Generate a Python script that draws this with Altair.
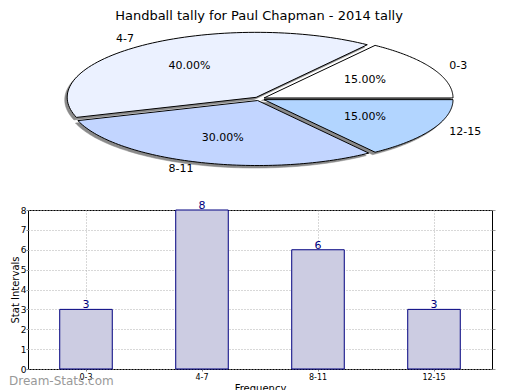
import altair as alt
import pandas as pd
import numpy as np

# ---------------- data ----------------
categories = ["0-3", "4-7", "8-11", "12-15"]
counts = [3, 8, 6, 3]
pie_colors = ["#ffffff", "#ebf1ff", "#c2d5ff", "#b2d5ff"]
y_ticks = [0, 1, 2, 3, 4, 5, 6, 7, 8]
chart_title = "Handball tally for Paul Chapman - 2014 tally"
x_title = "Frequency"
y_title = "Stat Intervals"
watermark = "Dream-Stats.com"

FONT = "DejaVu Sans"

# ---------------- layout parameters (page pixels) ----------------
X0 = 29          # page x of the plot-area origin (shared column)
TOP = 9          # page y of pie panel top
PIE_W, PIE_H = 476, 190
CX, CY = 260.3, 98.8   # ellipse centre on the page
RX, RY = 189.0, 65.0   # ellipse radii in pixels
EXPLODE = 0.028
SHADOW = 2.5
LABEL_R = 1.1
PCT_R = 0.6
BAR_W = 493 - X0

# pie units -> scale domains
x_dom = [(X0 - CX) / RX, (X0 + PIE_W - CX) / RX]
y_dom = [(CY - (TOP + PIE_H)) / RY, (CY - TOP) / RY]

total = float(sum(counts))
fracs = [c / total for c in counts]
ends = np.cumsum(fracs) * 360.0
starts = ends - np.array(fracs) * 360.0

rows = []
lab_rows = []
for k, cat in enumerate(categories):
    s, e = starts[k], ends[k]
    mid = np.radians((s + e) / 2.0)
    ox, oy = EXPLODE * np.cos(mid), EXPLODE * np.sin(mid)
    angs = np.radians(np.linspace(s, e, 80))
    pts = [(0.0, 0.0)] + [(np.cos(a), np.sin(a)) for a in angs] + [(0.0, 0.0)]
    for i, (px, py) in enumerate(pts):
        rows.append({"cat": cat, "i": i, "x": px + ox, "y": py + oy,
                     "sx": px + ox - SHADOW / RX, "sy": py + oy - SHADOW / RY})
    lab_rows.append({"cat": cat,
                     "pct": f"{fracs[k] * 100:.2f}%",
                     "px": PCT_R * np.cos(mid) + ox, "py": PCT_R * np.sin(mid) + oy,
                     "lx": LABEL_R * np.cos(mid) + ox, "ly": LABEL_R * np.sin(mid) + oy,
                     "side": "left" if np.cos(mid) >= 0 else "right"})

pie_df = pd.DataFrame(rows)
lab_df = pd.DataFrame(lab_rows)

xs = alt.Scale(domain=x_dom, nice=False, zero=False)
ys = alt.Scale(domain=y_dom, nice=False, zero=False)

base = alt.Chart(pie_df)
shadow = base.mark_line(fill="#8a8a8a", stroke="#8a8a8a", strokeWidth=0.5).encode(
    x=alt.X("sx:Q", scale=xs, axis=None),
    y=alt.Y("sy:Q", scale=ys, axis=None),
    detail="cat:N",
    order=alt.Order("i:Q"),
)
wedges = base.mark_line(stroke="black", strokeWidth=1).encode(
    x=alt.X("x:Q", scale=xs, axis=None),
    y=alt.Y("y:Q", scale=ys, axis=None),
    fill=alt.Fill("cat:N", scale=alt.Scale(domain=categories, range=pie_colors), legend=None),
    detail="cat:N",
    order=alt.Order("i:Q"),
)
pct_text = alt.Chart(lab_df).mark_text(font=FONT, fontSize=11, color="black").encode(
    x=alt.X("px:Q", scale=xs, axis=None),
    y=alt.Y("py:Q", scale=ys, axis=None),
    text="pct:N",
)
lab_left = alt.Chart(lab_df).transform_filter("datum.side == 'left'").mark_text(
    font=FONT, fontSize=11, color="black", align="left").encode(
    x=alt.X("lx:Q", scale=xs, axis=None),
    y=alt.Y("ly:Q", scale=ys, axis=None),
    text="cat:N",
)
lab_right = alt.Chart(lab_df).transform_filter("datum.side == 'right'").mark_text(
    font=FONT, fontSize=11, color="black", align="right").encode(
    x=alt.X("lx:Q", scale=xs, axis=None),
    y=alt.Y("ly:Q", scale=ys, axis=None),
    text="cat:N",
)
title_df = pd.DataFrame({"t": [chart_title]})
title_mark = alt.Chart(title_df).mark_text(
    font=FONT, fontSize=13, color="black", baseline="top", align="center").encode(
    x=alt.value(260 - X0), y=alt.value(1), text="t:N")

pie = alt.layer(shadow, wedges, pct_text, lab_left, lab_right, title_mark).properties(
    width=PIE_W, height=PIE_H, view=alt.ViewBackground(stroke="transparent"))

# ---------------- bar chart ----------------
bar_df = pd.DataFrame({"cat": categories, "n": counts})
xb = alt.X("cat:N", sort=categories, scale=alt.Scale(paddingInner=0.547, paddingOuter=0.2735),
           axis=alt.Axis(title=x_title, labelAngle=0, labelFont=FONT, labelFontSize=8,
                         titleFont=FONT, titleFontSize=10, titleFontWeight="normal",
                         titlePadding=2, tickSize=2, labelPadding=2, tickColor="#888",
                         domain=False, grid=True, gridDash=[1, 2], gridColor="#b0b0b0",
                         bandPosition=0.5))
ybar = alt.Y("n:Q", scale=alt.Scale(domain=[0, 8], nice=False),
             axis=alt.Axis(title=y_title, values=y_ticks, labelFont=FONT, labelFontSize=9,
                           titleFont=FONT, titleFontSize=10, titleFontWeight="normal",
                           titlePadding=0, tickSize=2, labelPadding=0, tickColor="#888",
                           domain=False, grid=True, gridDash=[1, 2], gridColor="#b0b0b0"))
bars = alt.Chart(bar_df).mark_bar(fill="#ccccE2", stroke="#000080", strokeWidth=1).encode(
    x=xb, y=ybar)
yright = alt.Y("n:Q", scale=alt.Scale(domain=[0, 8], nice=False),
               axis=alt.Axis(orient="right", title=None, labels=False, values=y_ticks,
                             tickSize=3, tickColor="#999", domain=False, grid=False))
vals = alt.Chart(bar_df).mark_text(font=FONT, fontSize=11, color="#000080",
                                   baseline="bottom", dy=1).encode(
    x=alt.X("cat:N", sort=categories), y=yright, text="n:Q")
wm_df = pd.DataFrame({"t": [watermark]})
wmark = alt.Chart(wm_df).mark_text(font=FONT, fontSize=12, color="#999999",
                                   align="left", baseline="middle").encode(
    x=alt.value(-(X0 - 10)), y=alt.value(171), text="t:N")

barchart = alt.layer(bars, vals, wmark).resolve_axis(y="independent").properties(
    width=BAR_W, height=159, view=alt.ViewBackground(stroke="black", strokeWidth=1))

chart = alt.vconcat(pie, barchart, spacing=11, bounds="flush", padding=0).configure(
    font=FONT)

chart.save("out.html", embed_options={"renderer": "svg", "actions": False})
